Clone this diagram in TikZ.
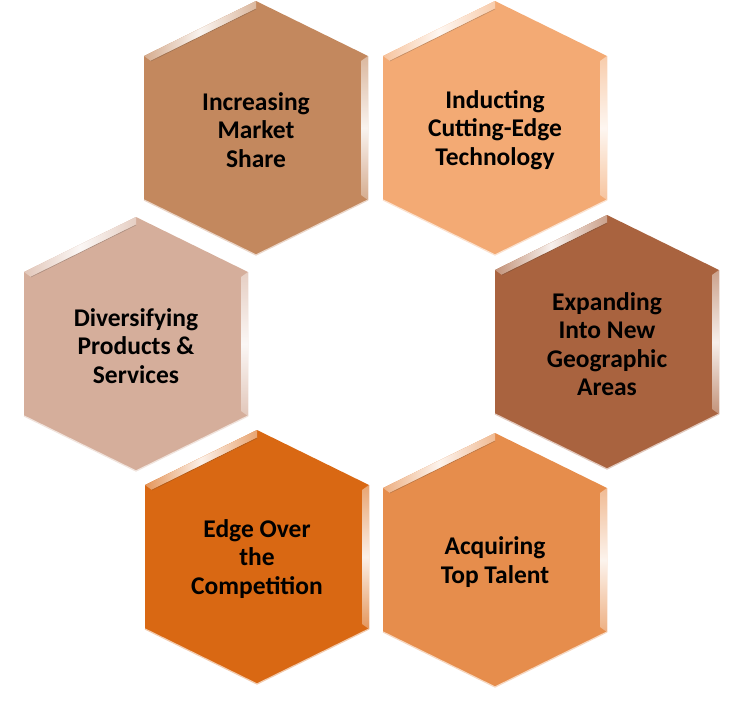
\documentclass[tikz,border=0pt]{standalone}
\usepackage{fontspec}
\setmainfont{Carlito}
\definecolor{cA}{HTML}{C3885E}
\definecolor{cB}{HTML}{F3AA74}
\definecolor{cC}{HTML}{D5AE9B}
\definecolor{cD}{HTML}{A9633F}
\definecolor{cE}{HTML}{D96813}
\definecolor{cF}{HTML}{E68D4C}
\tikzset{
  lbl/.style={font=\bfseries\fontsize{25.5}{28.5}\selectfont, align=center, text=black, inner sep=0pt}
}
\newcommand\hexcell[5]{%
  \begin{scope}[shift={(#2,#3)}]
    \fill[#4] (0,-127) -- (112,-72) -- (112,72) -- (0,127) -- (-112,72) -- (-112,-72) -- cycle;
    \shade[left color=#4!70!white, right color=#4!60!white, middle color=#4!10!white]
      (-112,-72) -- (0,-127) -- (0,-119) -- (-105,-67) -- cycle;
    \shade[top color=#4!60!white, bottom color=#4!70!white, middle color=#4!10!white]
      (112,-72) -- (112,72) -- (105,67) -- (105,-67) -- cycle;
    \draw[#4!35!white, line width=1.3pt] (112,72) -- (0,127) -- (-112,72);
    \draw[#4!80!black, line width=0.6pt] (-105,-67) -- (0,-119);
    \node[lbl] (#1) at (0,2) {#5};
  \end{scope}}
\begin{document}
\begin{tikzpicture}[x=1pt,y=-1pt]
\useasboundingbox (0,0) rectangle (741,710);
\hexcell{market}{256}{128}{cA}{Increasing\\Market\\Share}
\hexcell{tech}{495}{128}{cB}{Inducting\\Cutting-Edge\\Technology}
\hexcell{divers}{136}{344}{cC}{Diversifying\\Products \&\\Services}
\hexcell{geo}{607}{342}{cD}{Expanding\\Into New\\Geographic\\Areas}
\hexcell{edge}{257}{557}{cE}{Edge Over\\the\\Competition}
\hexcell{talent}{495}{560}{cF}{Acquiring\\Top Talent}
\end{tikzpicture}
\end{document}
